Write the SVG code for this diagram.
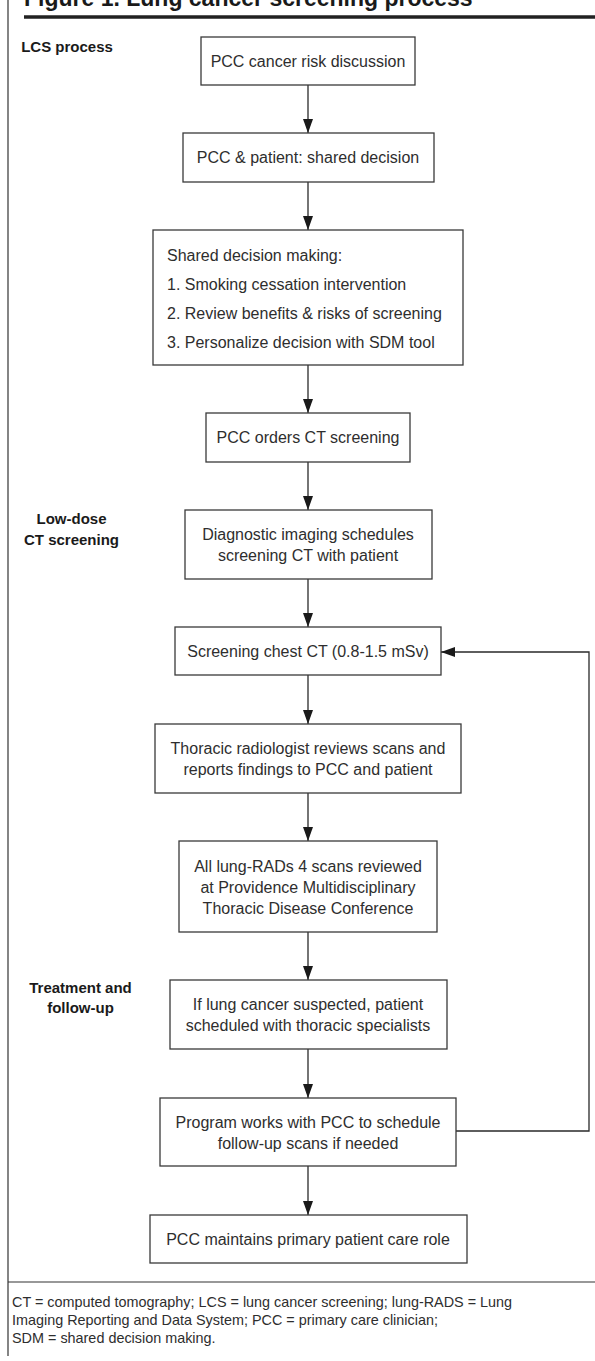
<svg xmlns="http://www.w3.org/2000/svg" width="595" height="1361" viewBox="0 0 595 1361">
<style>
.box{fill:#fff;stroke:#3a3a3a;stroke-width:1.3}
.t{font-family:"Liberation Sans",Arial,sans-serif;font-size:16px;fill:#2e2e2e;text-anchor:middle}
.tl{font-family:"Liberation Sans",Arial,sans-serif;font-size:16px;fill:#2e2e2e}
.sec{font-family:"Liberation Sans",Arial,sans-serif;font-size:15px;font-weight:bold;fill:#1a1a1a;text-anchor:middle}
.fn{font-family:"Liberation Sans",Arial,sans-serif;font-size:14.4px;fill:#2e2e2e}
.c{fill:none;stroke:#2a2a2a;stroke-width:1.3}
</style>
<defs>
<marker id="ah" markerWidth="14" markerHeight="10" refX="14" refY="5" viewBox="0 0 14 10" orient="auto" markerUnits="userSpaceOnUse">
<path d="M0,0 L14,5 L0,10 Z" fill="#1a1a1a"/>
</marker>
</defs>
<rect width="595" height="1361" fill="#fff"/>
<g id="frame">
<text x="24" y="6" style="font-family:'Liberation Sans',Arial,sans-serif;font-size:23px;font-weight:bold;fill:#1a1a1a">Figure 1. Lung cancer screening process</text>
<line x1="8" y1="0" x2="8" y2="1356" stroke="#333" stroke-width="1.2"/>
<line x1="24" y1="17" x2="595" y2="17" stroke="#222" stroke-width="3.5"/>
<line x1="8" y1="1282" x2="595" y2="1282" stroke="#333" stroke-width="1.2"/>
</g>
<g id="sections">
<text class="sec" x="67" y="52">LCS process</text>
<text class="sec" x="71.5" y="524">Low-dose</text>
<text class="sec" x="71.5" y="545">CT screening</text>
<text class="sec" x="80.5" y="993">Treatment and</text>
<text class="sec" x="80.5" y="1013">follow-up</text>
</g>
<g id="connectors">
<line class="c" x1="308" y1="85" x2="308" y2="133" marker-end="url(#ah)"/>
<line class="c" x1="308" y1="182" x2="308" y2="230" marker-end="url(#ah)"/>
<line class="c" x1="308" y1="365" x2="308" y2="413" marker-end="url(#ah)"/>
<line class="c" x1="308" y1="462" x2="308" y2="510" marker-end="url(#ah)"/>
<line class="c" x1="308" y1="579" x2="308" y2="627" marker-end="url(#ah)"/>
<line class="c" x1="308" y1="675" x2="308" y2="724" marker-end="url(#ah)"/>
<line class="c" x1="308" y1="793" x2="308" y2="841" marker-end="url(#ah)"/>
<line class="c" x1="308" y1="932" x2="308" y2="980" marker-end="url(#ah)"/>
<line class="c" x1="308" y1="1049" x2="308" y2="1098" marker-end="url(#ah)"/>
<line class="c" x1="308" y1="1166" x2="308" y2="1215" marker-end="url(#ah)"/>
<polyline class="c" points="456,1131 589,1131 589,652 441,652" marker-end="url(#ah)"/>
</g>
<g id="n1"><rect class="box" x="201" y="37" width="214" height="48"/><text class="t" x="308" y="67">PCC cancer risk discussion</text></g>
<g id="n2"><rect class="box" x="183" y="133" width="251" height="49"/><text class="t" x="308" y="163">PCC &amp; patient: shared decision</text></g>
<g id="n3"><rect class="box" x="153" y="230" width="310" height="135"/>
<text class="tl" x="167" y="261">Shared decision making:</text>
<text class="tl" x="167" y="290">1. Smoking cessation intervention</text>
<text class="tl" x="167" y="319">2. Review benefits &amp; risks of screening</text>
<text class="tl" x="167" y="348">3. Personalize decision with SDM tool</text></g>
<g id="n4"><rect class="box" x="206" y="413" width="204" height="49"/><text class="t" x="308" y="443">PCC orders CT screening</text></g>
<g id="n5"><rect class="box" x="185" y="510" width="247" height="69"/><text class="t" x="308" y="540">Diagnostic imaging schedules</text><text class="t" x="308" y="561">screening CT with patient</text></g>
<g id="n6"><rect class="box" x="175" y="627" width="266" height="48"/><text class="t" x="308" y="657">Screening chest CT (0.8-1.5 mSv)</text></g>
<g id="n7"><rect class="box" x="155" y="724" width="306" height="69"/><text class="t" x="308" y="754">Thoracic radiologist reviews scans and</text><text class="t" x="308" y="775">reports findings to PCC and patient</text></g>
<g id="n8"><rect class="box" x="179" y="841" width="258" height="91"/><text class="t" x="308" y="872">All lung-RADs 4 scans reviewed</text><text class="t" x="308" y="893">at Providence Multidisciplinary</text><text class="t" x="308" y="914">Thoracic Disease Conference</text></g>
<g id="n9"><rect class="box" x="170" y="980" width="277" height="69"/><text class="t" x="308" y="1010">If lung cancer suspected, patient</text><text class="t" x="308" y="1031">scheduled with thoracic specialists</text></g>
<g id="n10"><rect class="box" x="160" y="1098" width="296" height="68"/><text class="t" x="308" y="1128">Program works with PCC to schedule</text><text class="t" x="308" y="1149">follow-up scans if needed</text></g>
<g id="n11"><rect class="box" x="150" y="1215" width="317" height="48"/><text class="t" x="308" y="1245">PCC maintains primary patient care role</text></g>
<g id="footnote">
<text class="fn" x="12" y="1307">CT = computed tomography; LCS = lung cancer screening; lung-RADS = Lung</text>
<text class="fn" x="12" y="1325">Imaging Reporting and Data System; PCC = primary care clinician;</text>
<text class="fn" x="12" y="1343">SDM = shared decision making.</text>
</g>
</svg>
